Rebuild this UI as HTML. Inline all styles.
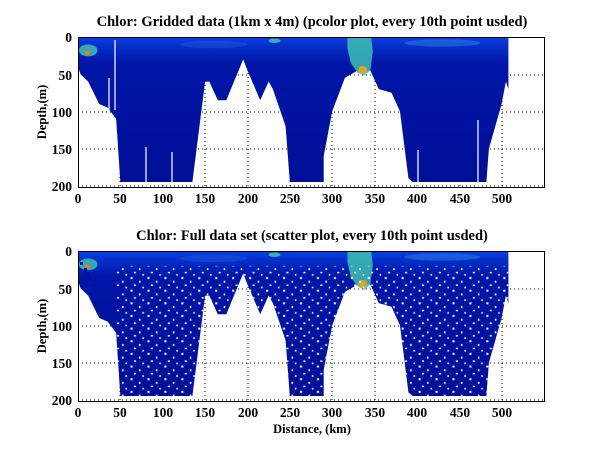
<!DOCTYPE html><html><head><style>body{margin:0;background:#fff}svg{display:block}text{font-family:"Liberation Serif",serif;font-weight:bold;fill:#000}</style></head><body>
<svg width="600" height="451" viewBox="0 0 600 451">
<defs>
<linearGradient id="g" x1="0" y1="0" x2="0" y2="1"><stop offset="0" stop-color="#0a40e8"/><stop offset="0.06" stop-color="#0630c8"/><stop offset="0.18" stop-color="#0016a8"/><stop offset="1" stop-color="#000f96"/></linearGradient>
<pattern id="dots" width="20" height="17" patternUnits="userSpaceOnUse"><rect x="2" y="1" width="2.4" height="2.7" fill="#fff"/><rect x="12" y="6" width="1.8" height="2.7" fill="#fff"/><rect x="6" y="11" width="2.4" height="2" fill="#fff"/><rect x="16" y="14" width="1.8" height="2.2" fill="#fff"/></pattern>
<symbol id="shape" viewBox="0 0 550 203" preserveAspectRatio="none">
<polygon points="0,0 508,0 508,70 505,60 500,90 485,150 482,195 395,195 390,190 380,100 370,75 355,70 345,45 330,45 315,55 300,100 290,160 290,195 250,195 245,120 230,70 225,60 215,85 200,45 195,30 175,85 165,85 155,60 150,60 140,150 135,195 50,195 45,110 35,95 25,90 12,60 3,50 0,40" fill="url(#g)"/>
<polygon points="318,0 346,0 348,20 345,45 338,52 330,48 322,35 318,15" fill="#3cc0b0" opacity="0.85"/>
<ellipse cx="336" cy="44" rx="5" ry="5" fill="#e8a020"/>
<ellipse cx="12" cy="18" rx="11" ry="8" fill="#40c8b0" opacity="0.8"/>
<ellipse cx="11" cy="21" rx="3" ry="3" fill="#e08020"/>
<ellipse cx="232" cy="5" rx="7" ry="3" fill="#50c8a0" opacity="0.8"/>
<ellipse cx="430" cy="8" rx="45" ry="5" fill="#2a80e0" opacity="0.5"/>
<ellipse cx="160" cy="10" rx="40" ry="5" fill="#2060e0" opacity="0.4"/>
</symbol>
<symbol id="dshape" viewBox="0 0 550 203" preserveAspectRatio="none">
<polygon points="45,20 508,20 508,70 505,60 500,90 485,150 482,195 395,195 390,190 380,100 370,75 355,70 345,50 330,50 315,55 300,100 290,160 290,195 250,195 245,120 230,70 225,60 215,85 200,45 195,30 175,85 165,85 155,60 150,60 140,150 135,195 50,195 45,110" fill="url(#dots)"/>
</symbol>
</defs>
<text x="312" y="26" font-size="14.5" text-anchor="middle">Chlor: Gridded data (1km x 4m) (pcolor plot, every 10th point usded)</text>
<g stroke="#000" stroke-width="1" stroke-dasharray="1,3" fill="none">
<path d="M120,37V188M163,37V188M205,37V188M248,37V188M290,37V188M332,37V188M375,37V188M417,37V188M460,37V188M502,37V188M78,75H544M78,112H544M78,149H544M78,186H544"/>
<path d="M120,251V402M163,251V402M205,251V402M248,251V402M290,251V402M332,251V402M375,251V402M417,251V402M460,251V402M502,251V402M78,289H544M78,326H544M78,363H544M78,400H544"/>
</g>
<use href="#shape" x="78" y="37" width="466" height="151"/>
<g stroke="#fff" stroke-width="1.2"><path d="M109,78V110M115,40V110M146,147V188M172,152V188M388,93V188M418,150V188M478,120V188"/></g>
<use href="#shape" x="78" y="251" width="466" height="151"/>
<use href="#dshape" x="78" y="251" width="466" height="151"/>
<g fill="#00129c"><rect x="80" y="262" width="3" height="3"/><rect x="86" y="272" width="3" height="3"/><rect x="82" y="285" width="3" height="3"/><rect x="90" y="292" width="3" height="3"/><rect x="94" y="300" width="3" height="3"/><rect x="88" y="278" width="3" height="3"/><rect x="97" y="307" width="2" height="3"/><rect x="84" y="268" width="3" height="3"/><rect x="93" y="284" width="3" height="3"/></g>
<rect x="78.5" y="37.5" width="466" height="150" fill="none" stroke="#000"/>
<rect x="78.5" y="251.5" width="466" height="150" fill="none" stroke="#000"/>
<g font-size="13.5" text-anchor="end"><text x="72" y="42">0</text><text x="72" y="80">50</text><text x="72" y="117">100</text><text x="72" y="154">150</text><text x="72" y="191">200</text>
<text x="72" y="256">0</text><text x="72" y="294">50</text><text x="72" y="331">100</text><text x="72" y="368">150</text><text x="72" y="405">200</text></g>
<g font-size="13.5" text-anchor="middle"><text x="78" y="203">0</text><text x="120" y="203">50</text><text x="163" y="203">100</text><text x="205" y="203">150</text><text x="248" y="203">200</text><text x="290" y="203">250</text><text x="332" y="203">300</text><text x="375" y="203">350</text><text x="417" y="203">400</text><text x="460" y="203">450</text><text x="502" y="203">500</text>
<text x="78" y="417">0</text><text x="120" y="417">50</text><text x="163" y="417">100</text><text x="205" y="417">150</text><text x="248" y="417">200</text><text x="290" y="417">250</text><text x="332" y="417">300</text><text x="375" y="417">350</text><text x="417" y="417">400</text><text x="460" y="417">450</text><text x="502" y="417">500</text></g>
<text x="312" y="240" font-size="14.5" text-anchor="middle">Chlor: Full data set (scatter plot, every 10th point usded)</text>
<text x="312" y="433" font-size="12.5" text-anchor="middle">Distance, (km)</text>
<text transform="translate(46,112) rotate(-90)" font-size="12.5" text-anchor="middle">Depth,(m)</text>
<text transform="translate(46,326) rotate(-90)" font-size="12.5" text-anchor="middle">Depth,(m)</text>
</svg></body></html>
